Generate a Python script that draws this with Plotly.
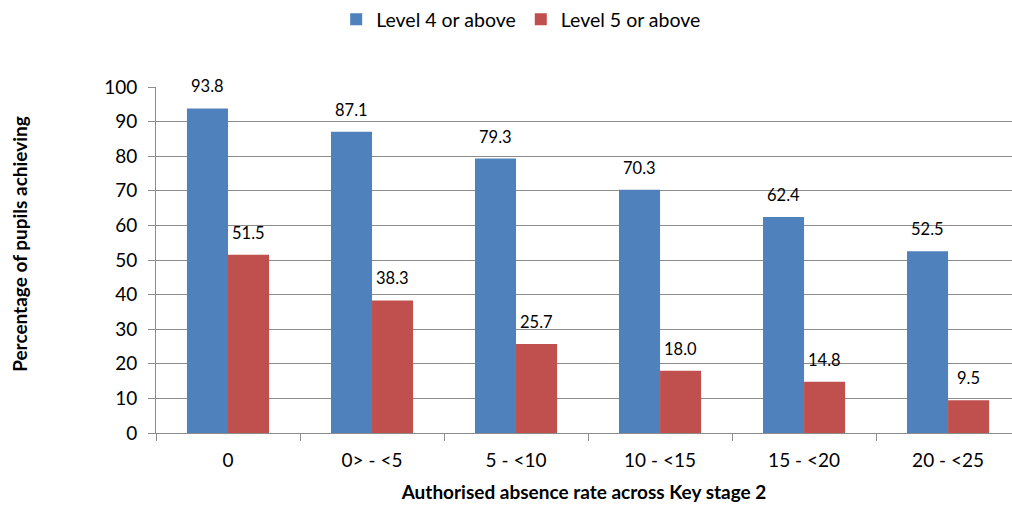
import plotly.graph_objects as go

# Pupil attainment by authorised absence band
categories = ["0", "0> - <5", "5 - <10", "10 - <15", "15 - <20", "20 - <25"]
level4 = [93.8, 87.1, 79.3, 70.3, 62.4, 52.5]
level5 = [51.5, 38.3, 25.7, 18.0, 14.8, 9.5]
y_ticks = list(range(0, 101, 10))

BLUE = "#4F81BD"
RED = "#C0504D"
GRID = "#8C8C8C"
FONT = "Lato, Carlito, Calibri, sans-serif"
W, H = 1012, 508
PLOT_TOP, PLOT_BOTTOM = 87, 433.3

fig = go.Figure()
fig.add_trace(go.Bar(name="Level 4 or above", x=categories, y=level4,
                     marker=dict(color=BLUE, line=dict(width=0))))
fig.add_trace(go.Bar(name="Level 5 or above", x=categories, y=level5,
                     marker=dict(color=RED, line=dict(width=0))))

# Value labels sit a little above each bar
bar_offset = 20.5
for vals, shift in ((level4, -bar_offset), (level5, bar_offset)):
    for cat, v in zip(categories, vals):
        fig.add_annotation(x=cat, y=v, text=f"{v:.1f}", showarrow=False,
                           xshift=shift, yshift=22, yanchor="middle",
                           font=dict(family=FONT, size=16.5, color="#000000"))

# Vertical axis title, centred a little above the middle of the axis
fig.add_annotation(text="<b>Percentage of pupils achieving</b>",
                   xref="paper", yref="paper", x=0,
                   y=(PLOT_BOTTOM - 244) / (PLOT_BOTTOM - PLOT_TOP),
                   xshift=-136, showarrow=False, textangle=-90,
                   xanchor="center", yanchor="middle",
                   font=dict(family=FONT, size=19, color="#000000"))

fig.update_layout(
    width=W, height=H,
    margin=dict(l=156, r=0, t=87, b=75),
    paper_bgcolor="white", plot_bgcolor="white",
    barmode="group", bargap=0.43, bargroupgap=0,
    font=dict(family=FONT, size=19, color="#000000"),
    legend=dict(orientation="h", xref="container", yref="container",
                x=0.515, xanchor="center", y=1.0, yanchor="top",
                font=dict(family=FONT, size=19.5), itemwidth=30,
                traceorder="normal"),
    xaxis=dict(
        type="category", range=[-0.5, 5.444],
        showgrid=False, showline=True, linecolor=GRID, linewidth=1,
        ticks="outside", tickson="boundaries", ticklen=7, tickcolor=GRID,
        ticklabelstandoff=10,
        tickfont=dict(family=FONT, size=19),
        title=dict(text="<b>Authorised absence rate across Key stage 2</b>",
                   font=dict(family=FONT, size=19), standoff=15),
    ),
    yaxis=dict(
        range=[0, 100], tickvals=y_ticks,
        showgrid=True, gridcolor=GRID, gridwidth=1,
        showline=True, linecolor=GRID, linewidth=1,
        ticks="outside", ticklen=7, tickcolor=GRID,
        ticklabelstandoff=7,
        tickfont=dict(family=FONT, size=19),
        zeroline=False,
    ),
)

fig.write_html("out.html")
